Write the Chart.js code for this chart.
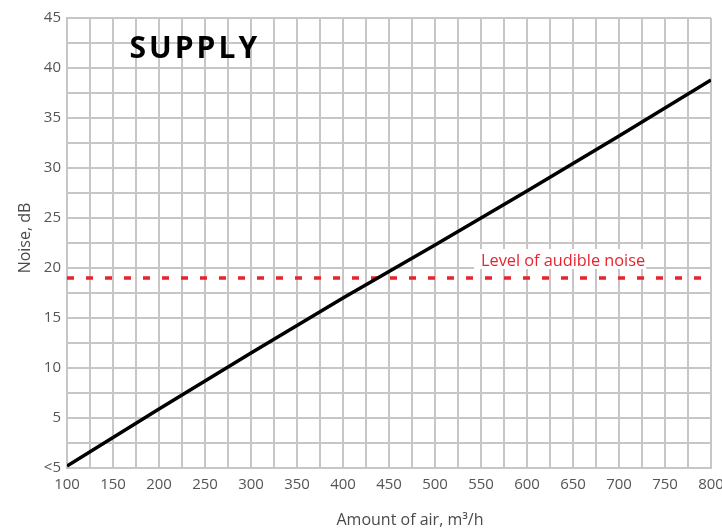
<!DOCTYPE html>
<html><head><meta charset="utf-8">
<script src="https://cdn.jsdelivr.net/npm/chart.js@4"></script>
<style>html,body{margin:0;padding:0;background:#fff;overflow:hidden;}</style>
</head><body>
<canvas id="c" width="722" height="529" style="width:722px;height:529px;display:block"></canvas>
<script>
// ---- data ----
const airflow = [100, 200, 300, 400, 500, 600, 700, 800];
const noiseSupply = [0.2, 5.9, 11.5, 17, 22.3, 27.7, 33.2, 38.8];
const audibleX = [100, 800];
const audibleLevel = [19, 19];
const xTickLabels = [100, 150, 200, 250, 300, 350, 400, 450, 500, 550, 600, 650, 700, 750, 800];
const yTickLabels = {0: '<5', 5: '5', 10: '10', 15: '15', 20: '20', 25: '25', 30: '30', 35: '35', 40: '40', 45: '45'};
const chartTitle = 'SUPPLY';
const levelLabel = 'Level of audible noise';
const xTitle = 'Amount of air, m³/h';
const yTitle = 'Noise, dB';

const FONT = '"Open Sans", sans-serif';
const GRID = '#c9c5c5';
const TICK = '#555555';

const textPlugin = {
  id: 'texts',
  afterDraw(chart) {
    const {ctx, scales: {x, y}} = chart;
    ctx.save();
    // title inside plot
    ctx.font = 'bold 30px ' + FONT;
    ctx.letterSpacing = '3px';
    ctx.fillStyle = '#000';
    ctx.textAlign = 'left';
    ctx.textBaseline = 'alphabetic';
    ctx.fillText(chartTitle, x.getPixelForValue(168), y.getPixelForValue(41));
    ctx.letterSpacing = '0px';
    // audible level label with white background
    ctx.font = '16.3px ' + FONT;
    const lx = x.getPixelForValue(550), ly = y.getPixelForValue(20.2);
    const w = ctx.measureText(levelLabel).width;
    ctx.fillStyle = '#fff';
    ctx.fillRect(lx - 7, ly - 17, w + 8, 20);
    ctx.fillStyle = '#e8232e';
    ctx.fillText(levelLabel, lx, ly);
    // axis titles
    ctx.fillStyle = '#4a4a4a';
    ctx.textAlign = 'center';
    ctx.textBaseline = 'middle';
    ctx.font = '16px ' + FONT;
    ctx.fillText(xTitle, 410, 520);
    ctx.translate(25, 238);
    ctx.rotate(-Math.PI / 2);
    ctx.fillText(yTitle, 0, 0);
    ctx.restore();
  }
};

new Chart(document.getElementById('c'), {
  type: 'line',
  data: {
    datasets: [
      {
        data: airflow.map((v, i) => ({x: v, y: noiseSupply[i]})),
        borderColor: '#000', borderWidth: 3.5, pointRadius: 0, tension: 0
      },
      {
        data: audibleX.map((v, i) => ({x: v, y: audibleLevel[i]})),
        borderColor: '#e8232e', borderWidth: 3.5, borderDash: [7, 12], borderCapStyle: 'butt',
        pointRadius: 0
      }
    ]
  },
  options: {
    responsive: false,
    devicePixelRatio: 1,
    animation: false,
    layout: {padding: {top: 18, right: 11, left: 0, bottom: 0}},
    plugins: {legend: {display: false}, tooltip: {enabled: false}},
    scales: {
      x: {
        type: 'linear', min: 100, max: 800,
        grid: {color: GRID, lineWidth: 2, drawTicks: false},
        border: {color: GRID, width: 2},
        ticks: {
          stepSize: 25, autoSkip: false, maxRotation: 0, padding: 8,
          color: TICK, font: {family: FONT, size: 15},
          callback: v => xTickLabels.includes(v) ? String(v) : ''
        },
        afterFit(s) { s.height = 61; s.paddingLeft = 0; s.paddingRight = 0; }
      },
      y: {
        min: 0, max: 45,
        grid: {color: GRID, lineWidth: 2, drawTicks: false},
        border: {color: GRID, width: 2},
        ticks: {
          stepSize: 2.5, autoSkip: false, padding: 6,
          color: TICK, font: {family: FONT, size: 15},
          callback: v => (v in yTickLabels) ? yTickLabels[v] : ''
        },
        afterFit(s) { s.width = 67; }
      }
    }
  },
  plugins: [textPlugin]
});
</script>
</body></html>
